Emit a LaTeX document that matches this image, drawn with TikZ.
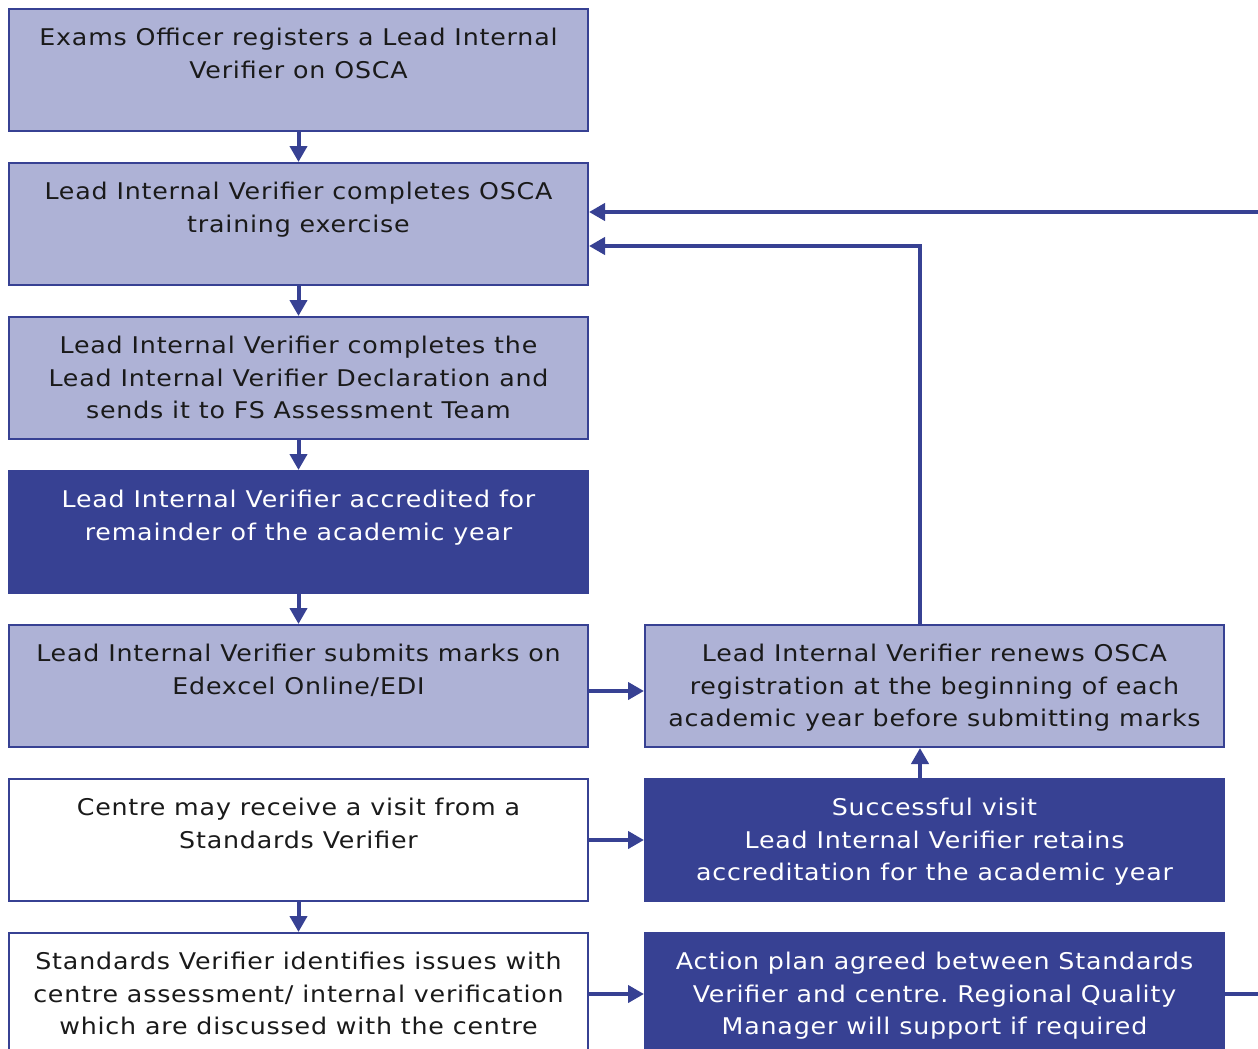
\documentclass[tikz,border=0pt]{standalone}
\usepackage{fontspec}
\setmainfont[FakeStretch=1.1,LetterSpace=3.5]{DejaVu Sans}
\usetikzlibrary{arrows.meta}
\definecolor{navy}{HTML}{374193}
\definecolor{lav}{HTML}{AEB2D6}
\definecolor{ink}{HTML}{1A1A1A}
\frenchspacing
\begin{document}
\begin{tikzpicture}[x=1pt,y=-1pt,
  boxbase/.style={draw=navy, line width=2pt, minimum width=579pt, minimum height=122pt, anchor=north west, inner sep=0pt},
  lightbox/.style={boxbase, fill=lav},
  darkbox/.style={boxbase, fill=navy},
  whitebox/.style={boxbase, fill=white},
  txt/.style={anchor=north, inner sep=0pt, align=center, font=\fontsize{23pt}{32.5pt}\selectfont, text=ink},
  wtxt/.style={txt, text=white},
  conn/.style={draw=navy, line width=4pt, -{Triangle[length=16pt,width=17pt]}},
  plain/.style={draw=navy, line width=4pt}]
\useasboundingbox (0,0) rectangle (1258,1049);
% left column
\node[lightbox] (b1) at (8,8) {};
\node[lightbox] (b2) at (8,162) {};
\node[lightbox] (b3) at (8,316) {};
\node[darkbox]  (b4) at (8,470) {};
\node[lightbox] (b5) at (8,624) {};
\node[whitebox] (b6) at (8,778) {};
\node[whitebox] (b7) at (8,932) {};
% right column
\node[lightbox] (r1) at (644,624) {};
\node[darkbox]  (r2) at (644,778) {};
\node[darkbox]  (r3) at (644,932) {};
% texts
\node[txt]  (t1) at ([yshift=-15pt]b1.north) {\strut Exams Officer registers a Lead Internal\\Verifier on OSCA};
\node[txt]  (t2) at ([yshift=-15pt]b2.north) {\strut Lead Internal Verifier completes OSCA\\training exercise};
\node[txt]  (t3) at ([yshift=-15pt]b3.north) {\strut Lead Internal Verifier completes the\\Lead Internal Verifier Declaration and\\sends it to FS Assessment Team};
\node[wtxt] (t4) at ([yshift=-15pt]b4.north) {\strut Lead Internal Verifier accredited for\\remainder of the academic year};
\node[txt]  (t5) at ([yshift=-15pt]b5.north) {\strut Lead Internal Verifier submits marks on\\Edexcel Online/EDI};
\node[txt]  (t6) at ([yshift=-15pt]b6.north) {\strut Centre may receive a visit from a\\Standards Verifier};
\node[txt]  (t7) at ([yshift=-15pt]b7.north) {\strut Standards Verifier identifies issues with\\centre assessment/ internal verification\\which are discussed with the centre};
\node[txt]  (u1) at ([yshift=-15pt]r1.north) {\strut Lead Internal Verifier renews OSCA\\registration at the beginning of each\\academic year before submitting marks};
\node[wtxt] (u2) at ([yshift=-15pt]r2.north) {\strut Successful visit\\Lead Internal Verifier retains\\accreditation for the academic year};
\node[wtxt] (u3) at ([yshift=-15pt]r3.north) {\strut Action plan agreed between Standards\\Verifier and centre. Regional Quality\\Manager will support if required};
% helper coordinates
\coordinate (xline) at (920,0);
\coordinate (edgeTop) at (1258,212);
\coordinate (edgeBot) at (1258,995);
% vertical connectors
\draw[conn] (b1.south) -- (b2.north);
\draw[conn] (b2.south) -- (b3.north);
\draw[conn] (b3.south) -- (b4.north);
\draw[conn] (b4.south) -- (b5.north);
\draw[conn] (b6.south) -- (b7.north);
% horizontal connectors
\draw[conn] ([yshift=-5pt]b5.east) -- ([yshift=-5pt]r1.west);
\draw[conn] (b6.east) -- (r2.west);
\draw[conn] (b7.east) -- (r3.west);
\draw[conn] (r2.north -| xline) -- (r1.south -| xline);
\draw[conn] (r1.north -| xline) |- ([yshift=-22pt]b2.east);
\draw[conn] (edgeTop) -- (edgeTop -| b2.east);
\draw[plain] (r3.east) -- (r3.east -| edgeBot);
\end{tikzpicture}
\end{document}
